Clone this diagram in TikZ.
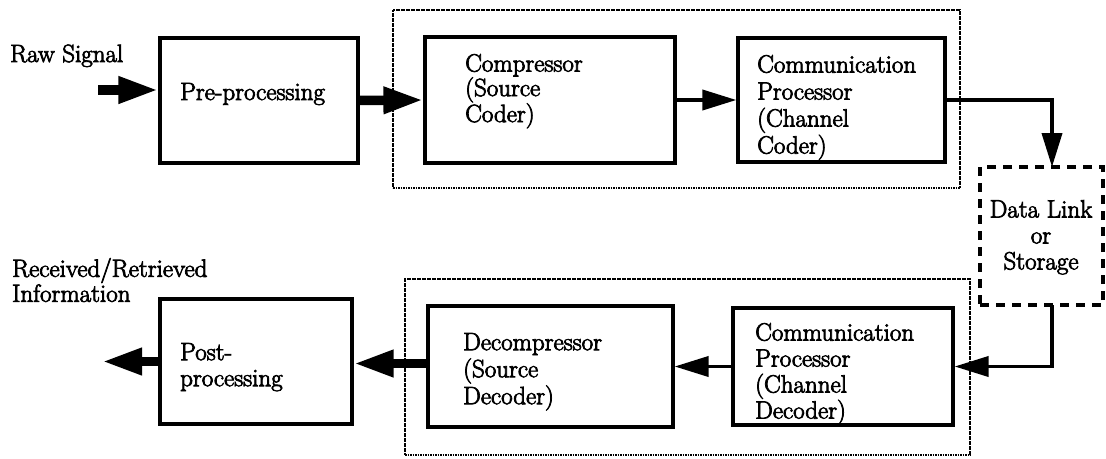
\documentclass[tikz,border=0pt]{standalone}
\usepackage{fontspec}
\newfontfamily\lblfont{Latin Modern Roman}[FakeBold=3]
\usetikzlibrary{arrows.meta}

\tikzset{
  block/.style={draw, line width=3.2pt, rectangle, inner sep=0pt},
  grouping/.style={draw, line width=2.6pt, dash pattern=on 1.8pt off 0.7pt, rectangle, inner sep=0pt},
  linkbox/.style={draw, line width=3.2pt, dash pattern=on 9pt off 7pt, rectangle, inner sep=0pt},
  lbl/.style={font=\lblfont\fontsize{25}{26}\selectfont, inner sep=0pt, align=left},
  heavyflow/.style={line width=9.5pt, -{Triangle[length=40pt,width=25pt]}},
  lightflow/.style={line width=3.8pt, -{Triangle[length=34pt,width=20pt]}},
}

\begin{document}
\begin{tikzpicture}[x=1pt, y=-1pt]
\useasboundingbox (0,0) rectangle (1106,458);

% encoder group and decoder group outlines
\node[grouping, minimum width=567pt, minimum height=178pt] (encgroup) at (676.5,99) {};
\node[grouping, minimum width=565pt, minimum height=176pt] (decgroup) at (687.5,367) {};

% processing blocks
\node[block, minimum width=198pt, minimum height=125pt] (pre) at (259,100.5) {};
\node[block, minimum width=250pt, minimum height=126pt] (comp) at (550,100) {};
\node[block, minimum width=207pt, minimum height=124pt] (comm) at (841.5,100) {};
\node[linkbox, minimum width=123pt, minimum height=138pt] (link) at (1041.5,236) {};
\node[block, minimum width=220pt, minimum height=117pt] (commb) at (843,366.5) {};
\node[block, minimum width=245pt, minimum height=121pt] (decomp) at (550.5,366.5) {};
\node[block, minimum width=192pt, minimum height=125pt] (post) at (256,361.5) {};

% texts
\node[lbl, anchor=base west] (rawtxt) at (10,62) {Raw Signal};
\node[lbl, anchor=base west] (pretxt) at (180,100) {Pre-processing};
\node[lbl, anchor=north west, font=\lblfont\fontsize{25}{24.5}\selectfont] (comptxt) at (465,53.9) {Compressor\\(Source\\Coder)};
\node[lbl, anchor=north west, font=\lblfont\fontsize{25}{27}\selectfont] (commtxt) at (757,54.9) {Communication\\Processor\\(Channel\\Coder)};
\node[lbl, anchor=north, align=center] (linktxt) at (1041,199.9) {Data Link\\or\\Storage};
\node[lbl, anchor=north west, font=\lblfont\fontsize{25}{25}\selectfont] (recvtxt) at (12,257.9) {Received/Retrieved\\Information};
\node[lbl, anchor=north west] (posttxt) at (180,342.9) {Post-\\processing};
\node[lbl, anchor=north west, font=\lblfont\fontsize{25}{27}\selectfont] (decomptxt) at (463,332.9) {Decompressor\\(Source\\Decoder)};
\node[lbl, anchor=north west] (commbtxt) at (755,322.9) {Communication\\Processor\\(Channel\\Decoder)};

% free ends of the chain
\coordinate (rawin) at (98,90);
\coordinate (infoout) at (102,361.5);
\coordinate (linkin) at (1052,167);
\coordinate (linkout) at (1052,305);

% signal flow
\draw[heavyflow] (rawin) -- (rawin -| pre.west);
\draw[heavyflow] (pre.east) -- (comp.west);
\draw[lightflow] (comp.east) -- (comm.west);
\draw[lightflow] (comm.east) -| (linkin);
\draw[lightflow] (linkout) |- (commb.east);
\draw[lightflow] (commb.west) -- (decomp.west -| decomp.east);
\draw[heavyflow] ([yshift=3pt]decomp.west) -- ([yshift=3pt]decomp.west -| post.east);
\draw[heavyflow] (post.west) -- (infoout);
\end{tikzpicture}
\end{document}
